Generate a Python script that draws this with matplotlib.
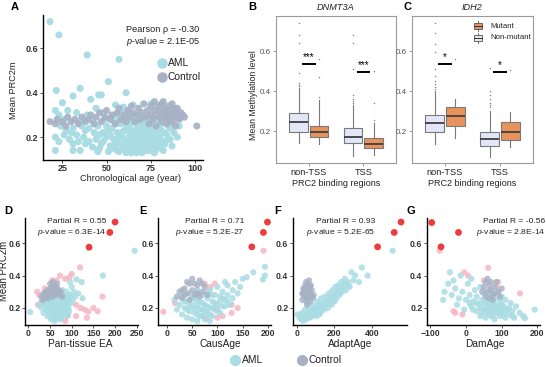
import matplotlib
matplotlib.use('Agg')
import matplotlib.pyplot as plt
from matplotlib.lines import Line2D
from matplotlib.patches import Rectangle

plt.rcParams['font.family'] = ['Liberation Sans', 'DejaVu Sans']
plt.rcParams['mathtext.fontset'] = 'custom'
plt.rcParams['mathtext.rm'] = 'Liberation Sans'
plt.rcParams['mathtext.it'] = 'Liberation Sans:italic'

# ---------------- DATA ----------------
# Panel A: chronological age vs mean PRC2m
A_aml = [(18,.72),(23,.66),(39,.57),(57,.55),(51,.45),(35,.42),(21.5,.41),(61,.40),(47,.39),(45.5,.39),
         (31,.385),(41,.37),(25,.355),(21,.32),(55,.345),(59.5,.335),(65,.345),(75,.35),(88,.22),(80.5,.155),
         (75,.15),(35,.14),(31,.14),(21,.14),(21,.20),(29,.19),(31,.17),(42,.155),(45,.135),(51,.135),
         (57,.135),(62,.15),(69,.15),(23,.30),(26,.28),(24,.25),(27,.23),(30,.22),(33,.21),(28,.32),
         (33,.31),(36,.25),(38,.23),(37,.20),(40,.18),(43,.22),(45,.25),(44,.19),(47,.17),(48,.22),
         (50,.20),(49,.28),(52,.16),(53,.24),(54,.19),(55,.30),(56,.22),(57,.17),(58,.26),(59,.20),
         (60,.15),(60,.23),(61,.29),(62,.18),(63,.25),(63,.21),(64,.16),(65,.28),(65,.19),(66,.23),
         (66,.14),(67,.26),(67,.17),(68,.21),(68,.30),(69,.24),(69,.18),(70,.27),(70,.16),(71,.22),
         (71,.19),(72,.25),(72,.14),(73,.20),(73,.29),(74,.17),(74,.23),(75,.26),(76,.19),(76,.15),
         (77,.22),(78,.28),(78,.17),(79,.24),(80,.20),(81,.26),(82,.18),(83,.22),(84,.29),(85,.19),
         (86,.24),(87,.16),(88,.27),(90,.20),(91,.25),(62,.32),(58,.31),(53,.29),(48,.31),(44,.33),
         (39,.30),(35,.27),(31,.24),(26,.21),(23,.18),(46,.15),(56,.14),(64,.13),(70,.13),(59,.16),
         (54,.27),(51,.23),(57,.20),(61,.26),(66,.20),(73,.17),(79,.15),(83,.17),(85,.25),
         (50,.25),(52,.21),(55,.17),(56,.27),(58,.22),(59,.29),(60,.19),(62,.24),(63,.17),(64,.27),
         (65,.22),(66,.30),(67,.20),(68,.25),(69,.14),(70,.22),(71,.26),(72,.18),(73,.24),(74,.28),
         (75,.21),(76,.24),(77,.18),(78,.21),(79,.27),(80,.17),(81,.23),(82,.14),(84,.21),(86,.19),
         (40,.24),(42,.27),(46,.21),(48,.18),(38,.17),(34,.18),(54,.15),(61,.13),(67,.13),(74,.14),
         (77,.13)]
A_ctrl = [(18,.27),(21,.26),(22,.28),(25,.27),(27,.25),(28,.29),(30,.27),(32,.28),(34,.26),(36,.29),
          (38,.27),(40,.28),(41,.30),(43,.26),(44,.29),(46,.31),(47,.27),(49,.29),(50,.32),(52,.28),
          (53,.30),(55,.26),(56,.31),(57,.33),(58,.28),(60,.30),(61,.27),(62,.32),(63,.29),(64,.34),
          (65,.31),(66,.27),(67,.30),(68,.33),(69,.28),(70,.31),(71,.35),(72,.29),(73,.32),(74,.26),
          (75,.30),(75,.34),(76,.28),(77,.32),(77,.36),(78,.30),(78,.25),(79,.34),(80,.29),(80,.32),
          (81,.27),(81,.35),(82,.31),(82,.36),(83,.29),(83,.33),(84,.26),(84,.31),(85,.34),(85,.28),
          (86,.30),(86,.32),(87,.27),(87,.35),(88,.29),(88,.33),(89,.31),(89,.25),(90,.30),(90,.33),
          (91,.28),(92,.31),(92,.29),(93,.30),(94,.29),(101,.25)]

# Panels B/C: box statistics (Non-mutant, Mutant) x (non-TSS, TSS)
regions = ['non-TSS', 'TSS']
B_stats = {
    'Non-mutant': [dict(whislo=.142, q1=.193, med=.246, q3=.291, whishi=.417, fliers=[.74,.68,.64,.49,.44,.43,.425]),
                   dict(whislo=.076, q1=.139, med=.172, q3=.213, whishi=.33, fliers=[.68,.64,.51,.38,.36,.35,.34])],
    'Mutant':     [dict(whislo=.135, q1=.172, med=.193, q3=.225, whishi=.354, fliers=[.56,.47,.37]),
                   dict(whislo=.080, q1=.114, med=.134, q3=.167, whishi=.238, fliers=[.50,.34,.255])],
}
C_stats = {
    'Non-mutant': [dict(whislo=.135, q1=.197, med=.238, q3=.280, whishi=.40, fliers=[.74,.69,.637,.595,.512,.474,.45,.435,.42,.41]),
                   dict(whislo=.072, q1=.125, med=.158, q3=.197, whishi=.30, fliers=[.515,.40,.38,.36,.34,.33,.32])],
    'Mutant':     [dict(whislo=.167, q1=.225, med=.275, q3=.321, whishi=.358, fliers=[.56]),
                   dict(whislo=.122, q1=.155, med=.193, q3=.243, whishi=.296, fliers=[.507])],
}
B_sig_y = [.534, .494]
B_sig_txt = ['***', '***']
C_sig_y = [.534, .494]
C_sig_txt = ['*', '*']

# Panels D-G: clock estimates vs mean PRC2m
D_aml = [(4,.175),(25,.22),(30,.20),(32,.25),(35,.17),(38,.22),(40,.28),(42,.19),(44,.15),(46,.24),
         (48,.21),(50,.17),(50,.27),(52,.13),(54,.23),(55,.19),(56,.30),(58,.15),(58,.26),(60,.21),
         (61,.17),(62,.28),(63,.24),(64,.13),(65,.19),(66,.32),(67,.22),(68,.16),(69,.26),(70,.20),
         (71,.29),(72,.14),(73,.23),(74,.18),(75,.27),(76,.21),(78,.16),(79,.31),(80,.24),(81,.19),
         (83,.27),(85,.22),(86,.17),(88,.30),(90,.25),(92,.20),(95,.28),(98,.23),(100,.33),(105,.30),
         (111,.376),(123,.36),(115,.29),(172,.40),(245,.553),(125,.26),(60,.12),(45,.29),(35,.28),
         (90,.15),(96,.36),
         (40,.22),(45,.20),(50,.24),(52,.19),(55,.26),(57,.21),(60,.25),(62,.18),(64,.22),(66,.27),
         (68,.20),(70,.24),(72,.30),(74,.21),(76,.25),(78,.19),(80,.28),(82,.23),(84,.16),(86,.26),
         (88,.21),(92,.24),(94,.18),(97,.27),(102,.25),(108,.27),(65,.15),(75,.13),(55,.14),(45,.18)]
D_ctrl = [(30,.27),(35,.29),(40,.30),(45,.31),(50,.32),(55,.33),(60,.34),(65,.33),(70,.31),(75,.30),
          (38,.26),(43,.28),(48,.29),(53,.30),(58,.31),(63,.30),(68,.29),(73,.28),(45,.26),(55,.27),
          (62,.28),(50,.35),(57,.36),(66,.35),(78,.27),(33,.25)]
D_pink = [(119,.45),(100,.41),(95,.39),(73,.40),(65,.37),(20,.30),(25,.28),(30,.24),(38,.32),
          (110,.22),(120,.20),(130,.19),(138,.177),(150,.20),(135,.14),(110,.15),(91,.157),(85,.12),
          (171,.27),(160,.18),(22,.22),(55,.37),(85,.38)]
D_red = [(200,.73),(188,.666),(140,.575)]

E_aml = [(15,.25),(20,.19),(25,.22),(30,.16),(30,.27),(35,.20),(40,.24),(40,.14),(45,.18),(45,.29),
         (50,.22),(50,.13),(55,.26),(55,.17),(60,.21),(60,.31),(65,.15),(65,.24),(70,.19),(70,.28),
         (75,.22),(75,.13),(80,.17),(80,.26),(85,.20),(85,.31),(90,.15),(90,.24),(95,.19),(95,.28),
         (100,.22),(100,.33),(105,.17),(105,.27),(110,.30),(110,.21),(115,.25),(120,.34),(120,.28),
         (125,.22),(130,.31),(135,.36),(140,.29),(145,.33),(150,.38),(158,.39),(171,.42),(190,.375),
         (194,.454),(194,.40),(130,.26),(115,.36),(60,.12),(85,.12),
         (45,.21),(55,.20),(60,.24),(65,.19),(70,.23),(75,.18),(80,.21),(85,.16),(90,.20),(95,.23),
         (100,.18),(105,.24),(110,.26),(70,.15),(60,.16),(50,.26),(40,.19),(35,.24),(80,.29),(90,.28),
         (115,.21),(120,.24)]
E_ctrl = [(20,.27),(25,.30),(30,.26),(35,.32),(40,.29),(45,.35),(50,.31),(55,.28),(60,.34),(65,.37),
          (70,.30),(75,.33),(40,.36),(50,.38),(35,.28),(60,.29),(45,.25),(55,.35),(70,.35),(80,.28),
          (30,.31),(65,.27)]
E_pink = [(-7,.177),(16,.23),(86,.33),(80,.30),(99,.20),(128,.22),(128,.17),(79,.137),(110,.15),
          (140,.20),(95,.35),(60,.31),(50,.27),(75,.35),(191,.553),(70,.15),(100,.14)]
E_red = [(199,.73),(191,.666),(168,.577)]

F_aml = [(5,.16),(15,.14),(25,.13),(30,.17),(40,.15),(45,.19),(50,.13),(60,.17),(65,.21),(70,.14),
         (80,.18),(85,.22),(90,.16),(100,.20),(105,.15),(110,.24),(115,.18),(120,.22),(125,.17),(130,.26),
         (135,.20),(140,.23),(145,.19),(150,.27),(155,.22),(160,.25),(165,.20),(170,.29),(175,.24),(180,.27),
         (185,.22),(190,.31),(195,.25),(200,.28),(205,.33),(210,.26),(215,.30),(220,.34),(225,.28),(230,.32),
         (235,.36),(240,.30),(250,.34),(255,.38),(260,.31),(270,.36),(280,.33),(290,.42),(300,.37),(310,.40),
         (330,.36),(345,.45),(375,.40),(508,.553),(35,.12),(75,.15),(95,.19),(125,.21),(160,.23),(200,.24),
         (20,.16),(55,.16),(65,.18),(90,.19),(100,.17),(110,.20),(120,.19),(140,.21),(150,.22),(165,.24),
         (180,.23),(190,.26),(210,.28),(220,.30),(230,.29),(245,.32),(260,.35),(275,.34),(120,.16),(80,.15),
         (60,.14)]
F_ctrl = [(30,.25),(35,.28),(40,.31),(45,.34),(50,.36),(55,.33),(60,.30),(65,.27),(70,.24),(75,.28),
          (80,.31),(85,.26),(45,.27),(50,.24),(55,.28),(60,.35),(65,.32),(70,.29),(40,.29),(35,.32),
          (75,.34),(50,.30),(60,.26),(55,.22),(65,.37),(45,.31),(70,.33),(80,.27),(30,.29),(90,.28)]
F_red = [(552,.73),(516,.666),(428,.577)]

G_aml = [(-60,.30),(-64,.25),(-45,.42),(-50,.35),(-40,.28),(-30,.32),(-25,.22),(-20,.26),(-10,.30),(-5,.19),
         (0,.25),(5,.35),(10,.28),(15,.21),(20,.24),(25,.31),(30,.18),(30,.27),(35,.22),(40,.15),
         (40,.33),(45,.25),(50,.19),(50,.29),(55,.14),(55,.23),(60,.27),(60,.17),(65,.21),(65,.31),
         (70,.25),(70,.15),(75,.19),(75,.28),(80,.22),(80,.13),(85,.26),(85,.17),(90,.20),(90,.30),
         (95,.15),(95,.24),(100,.18),(100,.27),(105,.21),(110,.14),(110,.25),(115,.19),(120,.16),(125,.23),
         (130,.18),(135,.14),(140,.21),(150,.17),(160,.15),(165,.137),(192,.19),(-35,.37),(15,.38),(-15,.40),
         (30,.23),(40,.20),(45,.17),(50,.23),(55,.19),(60,.21),(65,.17),(70,.20),(75,.23),(80,.18),
         (85,.21),(90,.17),(95,.20),(100,.22),(105,.16),(110,.19),(120,.20),(130,.15),(20,.19),(10,.23),
         (60,.24),(75,.15)]
G_ctrl = [(45,.30),(50,.33),(55,.36),(60,.38),(65,.34),(70,.31),(75,.28),(80,.33),(85,.36),(90,.30),
          (55,.27),(60,.30),(70,.36),(75,.25),(95,.27),(65,.26),(80,.29),(100,.32)]
G_pink = [(-74,.553),(-5,.42),(6,.40),(62,.448),(151,.29),(-35,.18),(-30,.17),(-10,.16),(86,.33),
          (50,.37),(90,.36)]
G_red = [(-96,.727),(-21,.666),(-70,.577)]

panel_stats = {
    'D': ('Pan-tissue EA', '0.55', '6.3E-14'),
    'E': ('CausAge', '0.71', '5.2E-27'),
    'F': ('AdaptAge', '0.93', '5.2E-65'),
    'G': ('DamAge', '-0.56', '2.8E-14'),
}

# ---------------- STYLE ----------------
C_AML = '#A9DCE3'
C_CTRL = '#A6B1C4'
C_PINK = '#F6B6C4'
C_RED = '#EE3B3B'
C_MUT = '#E8935C'
C_NON = '#E2E6F6'
TXT = '#222222'

W, H = 546, 367
fig = plt.figure(figsize=(W / 100, H / 100), dpi=100)


def fx(x):
    return x / W


def fy(y):
    return 1 - y / H


def px_axes(l, t, r, b):
    return fig.add_axes([l / W, 1 - b / H, (r - l) / W, (b - t) / H])


def ftext(x, y, s, **kw):
    fig.text(fx(x), fy(y), s, **kw)


def style_scatter(ax, xlim, ylim, xticks, lsize=6.5):
    ax.set_xlim(*xlim)
    ax.set_ylim(*ylim)
    ax.set_xticks(xticks)
    ax.set_yticks([0.2, 0.4, 0.6])
    ax.set_yticklabels(['0.2', '0.4', '0.6'])
    for s in ['top', 'right']:
        ax.spines[s].set_visible(False)
    for s in ['left', 'bottom']:
        ax.spines[s].set_linewidth(1.0)
        ax.spines[s].set_color('black')
    ax.tick_params(length=2, width=0.6, labelsize=lsize, pad=1.2, labelcolor='#333333', color='#333333')
    for lab in ax.get_xticklabels() + ax.get_yticklabels():
        lab.set_fontweight('bold')


def sc(ax, pts, color, s, alpha=1.0, z=2):
    xs = [p[0] for p in pts]
    ys = [p[1] for p in pts]
    ax.scatter(xs, ys, s=s, c=color, alpha=alpha, edgecolors='none', zorder=z)


# ---------------- PANEL A ----------------
axA = px_axes(43, 15, 203, 160)
sc(axA, A_aml, C_AML, 26, 1.0, 2)
sc(axA, A_ctrl, C_CTRL, 26, 0.9, 3)
style_scatter(axA, (14, 104.5), (0.097, 0.75), [25, 50, 75, 100])
ftext(130, 178, 'Chronological age (year)', fontsize=6.6, ha='center', va='center', color=TXT)
ftext(14, 90, 'Mean PRC2m', fontsize=6.6, ha='center', va='center', rotation=90, color=TXT)
ftext(126, 30, 'Pearson ρ = -0.30', fontsize=6.6, ha='left', va='center', color=TXT)
ftext(126, 41, r'$\it{p}$-value = 2.1E-05', fontsize=6.6, ha='left', va='center', color=TXT)
for yy, lab, col in [(63.3, 'AML', C_AML), (76.7, 'Control', C_CTRL)]:
    fig.add_artist(Line2D([fx(161.7)], [fy(yy)], marker='o', ms=6.5, color=col, lw=0,
                          transform=fig.transFigure))
    ftext(168, yy, lab, fontsize=7.4, ha='left', va='center', color=TXT)

# ---------------- PANELS B, C ----------------
offset = 0.1875
bw = 0.34


def box_panel(ax, stats, sig_y, sig_txt, title):
    for gname, col in [('Non-mutant', C_NON), ('Mutant', C_MUT)]:
        sign = -1 if gname == 'Non-mutant' else 1
        pos = [i + 1 + sign * offset for i in range(len(regions))]
        ax.bxp(stats[gname], positions=pos, widths=bw, showcaps=False, patch_artist=True,
               boxprops=dict(facecolor=col, edgecolor='#7A7A7A', linewidth=0.8),
               medianprops=dict(color='#3F3F3F', linewidth=1.3),
               whiskerprops=dict(color='#7A7A7A', linewidth=0.8),
               flierprops=dict(marker='o', markersize=1.1, markerfacecolor='#8A8A8A',
                               markeredgecolor='none'))
    for i, (yv, t) in enumerate(zip(sig_y, sig_txt)):
        c = i + 1
        ax.plot([c - 0.12, c + 0.13], [yv, yv], color='black', lw=1.4, solid_capstyle='butt', zorder=5)
        ax.text(c, yv + 0.012, t, ha='center', va='bottom', fontsize=7, color='black')
    ax.set_xlim(0.4, 2.6)
    ax.set_ylim(0.04, 0.775)
    ax.set_xticks([1, 2])
    ax.set_xticklabels(regions, fontsize=6.6, color=TXT)
    ax.set_yticks([0.2, 0.4, 0.6])
    ax.set_yticklabels(['0.2', '0.4', '0.6'], fontsize=5.8, color='#555555')
    ax.tick_params(length=2, width=0.5, color='#777777', pad=1.5)
    for s in ax.spines.values():
        s.set_color('#9A9A9A')
        s.set_linewidth(0.8)
    ax.set_title(title, fontsize=6.6, style='italic', color=TXT, pad=4)


axB = px_axes(276, 16, 396, 163)
box_panel(axB, B_stats, B_sig_y, B_sig_txt, 'DNMT3A')
axC = px_axes(412, 16, 533, 163)
box_panel(axC, C_stats, C_sig_y, C_sig_txt, 'IDH2')
ftext(253, 95, 'Mean Methylation level', fontsize=6.3, ha='center', va='center', rotation=90, color=TXT)
ftext(336, 184, 'PRC2 binding regions', fontsize=6.5, ha='center', va='center', color=TXT)
ftext(472, 184, 'PRC2 binding regions', fontsize=6.5, ha='center', va='center', color=TXT)

# legend in C
for yy, lab, col in [(26, 'Mutant', C_MUT), (37.7, 'Non-mutant', C_NON)]:
    fig.add_artist(Rectangle((fx(474), fy(yy + 3)), 8 / W, 6 / H, facecolor=col, edgecolor='#555555',
                             linewidth=0.6, transform=fig.transFigure))
    fig.add_artist(Line2D([fx(474), fx(482)], [fy(yy), fy(yy)], color='#333333', lw=0.7,
                          transform=fig.transFigure))
    fig.add_artist(Line2D([fx(478), fx(478)], [fy(yy - 5), fy(yy - 3)], color='#555555', lw=0.6,
                          transform=fig.transFigure))
    fig.add_artist(Line2D([fx(478), fx(478)], [fy(yy + 3), fy(yy + 5)], color='#555555', lw=0.6,
                          transform=fig.transFigure))
    ftext(490, yy, lab, fontsize=5.6, ha='left', va='center', color=TXT)

# ---------------- PANELS D-G ----------------
scatter_panels = [
    ('D', (25, 138), (-8, 253), [0, 50, 100, 150, 200, 250], D_aml, D_ctrl, D_pink, D_red, 106, 80),
    ('E', (158.3, 271), (-17, 206), [0, 50, 100, 150, 200], E_aml, E_ctrl, E_pink, E_red, 244, 220),
    ('F', (292.7, 406.7), (-21, 582), [0, 200, 400], F_aml, F_ctrl, [], F_red, 375, 350),
    ('G', (426.7, 540), (-110, 207), [-100, 0, 100, 200], G_aml, G_ctrl, G_pink, G_red, 545, 485),
]
for key, (l, r), xlim, xt, aml, ctrl, pink, red, txt_r, lab_x in scatter_panels:
    ax = px_axes(l, 218, r, 325)
    sc(ax, aml, C_AML, 20, 0.85, 2)
    sc(ax, ctrl, C_CTRL, 20, 0.8, 3)
    if pink:
        sc(ax, pink, C_PINK, 20, 0.85, 1)
    sc(ax, red, C_RED, 24, 1.0, 5)
    style_scatter(ax, xlim, (0.095, 0.755), xt, lsize=6.2)
    name, rval, pval = panel_stats[key]
    ftext(txt_r, 221.7, f'Partial R = {rval}', fontsize=6.1, ha='right', va='center', color=TXT)
    ftext(txt_r, 232.3, r'$\it{p}$-value = ' + pval, fontsize=6.1, ha='right', va='center', color=TXT)
    ftext(lab_x, 344, name, fontsize=7.3, ha='center', va='center', color=TXT)

ftext(4.5, 271, 'Mean PRC2m', fontsize=6.9, ha='center', va='center', rotation=90, color=TXT)

# bottom legend
for xx, lab, col in [(235, 'AML', C_AML), (301.7, 'Control', C_CTRL)]:
    fig.add_artist(Line2D([fx(xx)], [fy(360)], marker='o', ms=7, color=col, lw=0,
                          transform=fig.transFigure))
    ftext(xx + 6.5, 360, lab, fontsize=7.4, ha='left', va='center', color=TXT)

# panel letters
for lab, xx, yy in [('A', 15, 7), ('B', 252, 7), ('C', 407, 7),
                    ('D', 8, 211), ('E', 143, 211), ('F', 278, 211), ('G', 411, 211)]:
    ftext(xx, yy, lab, fontsize=8, fontweight='bold', ha='center', va='center', color='black')

fig.savefig('out.png', dpi=100)
